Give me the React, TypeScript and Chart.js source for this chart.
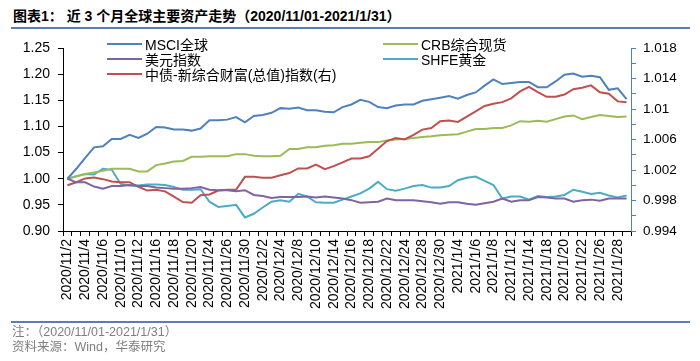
import React, { useEffect, useRef } from "react";
import { Chart, registerables } from "chart.js";

Chart.register(...registerables);

const dates = [
  "2020/11/2", "2020/11/3", "2020/11/4", "2020/11/5", "2020/11/6", "2020/11/9", "2020/11/10", "2020/11/11",
  "2020/11/12", "2020/11/13", "2020/11/16", "2020/11/17", "2020/11/18", "2020/11/19", "2020/11/20", "2020/11/23",
  "2020/11/24", "2020/11/25", "2020/11/26", "2020/11/27", "2020/11/30",
  "2020/12/1", "2020/12/2", "2020/12/3", "2020/12/4", "2020/12/7", "2020/12/8", "2020/12/9", "2020/12/10",
  "2020/12/11", "2020/12/14", "2020/12/15", "2020/12/16", "2020/12/17", "2020/12/18", "2020/12/21", "2020/12/22",
  "2020/12/23", "2020/12/24", "2020/12/25", "2020/12/28", "2020/12/29", "2020/12/30", "2020/12/31",
  "2021/1/4", "2021/1/5", "2021/1/6", "2021/1/7", "2021/1/8", "2021/1/11", "2021/1/12", "2021/1/13",
  "2021/1/14", "2021/1/15", "2021/1/18", "2021/1/19", "2021/1/20", "2021/1/21", "2021/1/22", "2021/1/25",
  "2021/1/26", "2021/1/27", "2021/1/28", "2021/1/29",
];

const msciGlobal = [
  1.000, 1.019, 1.040, 1.060, 1.062, 1.076, 1.076, 1.084, 1.078, 1.086, 1.099, 1.098, 1.094, 1.094, 1.092, 1.096,
  1.112, 1.112, 1.113, 1.118, 1.108, 1.120, 1.122, 1.126, 1.135, 1.134, 1.136, 1.131, 1.131, 1.128, 1.127, 1.137,
  1.142, 1.151, 1.147, 1.137, 1.135, 1.140, 1.142, 1.142, 1.149, 1.152, 1.155, 1.158, 1.153, 1.160, 1.165, 1.178,
  1.190, 1.181, 1.183, 1.185, 1.185, 1.175, 1.175, 1.186, 1.199, 1.201, 1.195, 1.197, 1.194, 1.170, 1.173, 1.152,
];

const usdIndex = [
  1.000, 0.993, 0.993, 0.985, 0.981, 0.986, 0.986, 0.988, 0.986, 0.986, 0.983, 0.982, 0.981, 0.981, 0.982, 0.984,
  0.979, 0.978, 0.978, 0.976, 0.978, 0.969, 0.967, 0.963, 0.965, 0.965, 0.965, 0.966, 0.964, 0.966, 0.964, 0.962,
  0.959, 0.954, 0.955, 0.956, 0.962, 0.959, 0.959, 0.959, 0.957, 0.955, 0.952, 0.955, 0.955, 0.952, 0.950, 0.953,
  0.956, 0.962, 0.956, 0.959, 0.959, 0.965, 0.964, 0.962, 0.962, 0.956, 0.959, 0.960, 0.958, 0.962, 0.962, 0.962,
];

const chinaBondWealth = [
  1.0000, 1.0004, 1.0009, 1.0010, 1.0008, 1.0005, 1.0004, 1.0004, 0.9998, 0.9993, 0.9994, 0.9992, 0.9985, 0.9978, 0.9977, 0.9987,
  0.9988, 0.9993, 0.9994, 0.9994, 1.0011, 1.0011, 1.0010, 1.0010, 1.0013, 1.0016, 1.0022, 1.0022, 1.0027, 1.0021, 1.0025, 1.0030,
  1.0035, 1.0035, 1.0038, 1.0048, 1.0058, 1.0062, 1.0060, 1.0066, 1.0073, 1.0075, 1.0084, 1.0085, 1.0083, 1.0090, 1.0097, 1.0104,
  1.0107, 1.0109, 1.0114, 1.0123, 1.0129, 1.0122, 1.0116, 1.0116, 1.0119, 1.0126, 1.0128, 1.0131, 1.0122, 1.0120, 1.0110, 1.0109,
];

const crbSpot = [
  1.000, 1.004, 1.009, 1.012, 1.015, 1.019, 1.019, 1.019, 1.014, 1.014, 1.026, 1.029, 1.033, 1.034, 1.042, 1.042,
  1.043, 1.043, 1.043, 1.047, 1.047, 1.044, 1.043, 1.043, 1.044, 1.057, 1.057, 1.060, 1.060, 1.063, 1.064, 1.067,
  1.067, 1.069, 1.070, 1.070, 1.073, 1.075, 1.076, 1.078, 1.080, 1.081, 1.083, 1.084, 1.085, 1.090, 1.095, 1.095,
  1.097, 1.097, 1.102, 1.110, 1.109, 1.111, 1.109, 1.114, 1.119, 1.121, 1.114, 1.118, 1.122, 1.120, 1.118, 1.119,
];

const shfeGold = [
  1.000, 1.005, 1.009, 1.008, 1.019, 1.017, 0.990, 0.987, 0.987, 0.989, 0.989, 0.988, 0.984, 0.979, 0.979, 0.980,
  0.956, 0.946, 0.948, 0.950, 0.926, 0.933, 0.945, 0.956, 0.959, 0.956, 0.971, 0.966, 0.955, 0.954, 0.954, 0.960,
  0.966, 0.972, 0.981, 0.994, 0.980, 0.977, 0.981, 0.986, 0.988, 0.983, 0.983, 0.986, 0.997, 1.002, 1.004, 0.996,
  0.988, 0.962, 0.966, 0.966, 0.960, 0.967, 0.965, 0.966, 0.969, 0.979, 0.975, 0.971, 0.973, 0.968, 0.964, 0.968,
];

const leftTicks = { min: 0.9, max: 1.25, step: 0.05 };
const rightTicks = { min: 0.994, max: 1.018, step: 0.002 };

const seriesNames = ["MSCI全球", "美元指数", "中债-新综合财富(总值)指数(右)", "CRB综合现货", "SHFE黄金"];
const seriesColors = ["#4F81BD", "#8064A2", "#C0504D", "#9BBB59", "#4BACC6"];

const FONT = "'Liberation Sans', Arial, 'Noto Sans CJK SC', sans-serif";

export default function App() {
  const ref = useRef<HTMLCanvasElement>(null);

  useEffect(() => {
    if (!ref.current) return;
    const chart = new Chart(ref.current, {
      type: "line",
      data: {
        labels: dates,
        datasets: [
          { label: seriesNames[0], data: msciGlobal, borderColor: seriesColors[0], yAxisID: "y" },
          { label: seriesNames[1], data: usdIndex, borderColor: seriesColors[1], yAxisID: "y" },
          { label: seriesNames[2], data: chinaBondWealth, borderColor: seriesColors[2], yAxisID: "y1" },
          { label: seriesNames[3], data: crbSpot, borderColor: seriesColors[3], yAxisID: "y" },
          { label: seriesNames[4], data: shfeGold, borderColor: seriesColors[4], yAxisID: "y" },
        ],
      },
      options: {
        animation: false,
        responsive: false,
        maintainAspectRatio: false,
        devicePixelRatio: 1,
        layout: { padding: { top: 48, left: 0, right: 0, bottom: 0 } },
        elements: {
          point: { radius: 0, hoverRadius: 0 },
          line: { borderWidth: 2, tension: 0, fill: false },
        },
        plugins: { legend: { display: false }, tooltip: { enabled: false } },
        scales: {
          x: {
            type: "category",
            offset: true,
            grid: { offset: true, drawOnChartArea: false, drawTicks: true, tickLength: 5, color: "#000", lineWidth: 1 },
            border: { display: true, color: "#000", width: 1 },
            ticks: {
              autoSkip: false,
              minRotation: 90,
              maxRotation: 90,
              padding: 3,
              color: "#000",
              font: { family: FONT, size: 14 },
              callback: (_v: any, idx: number) => (idx % 2 === 0 ? dates[idx] : ""),
            },
            afterFit: (s: any) => {
              s.height = 130;
            },
          },
          y: {
            position: "left",
            min: leftTicks.min,
            max: leftTicks.max,
            grid: { drawOnChartArea: false, drawTicks: true, tickLength: 5, color: "#000" },
            border: { display: true, color: "#000", width: 1 },
            ticks: {
              stepSize: leftTicks.step,
              autoSkip: false,
              padding: 8,
              color: "#000",
              font: { family: FONT, size: 14 },
              callback: (v: any) => Number(v).toFixed(2),
            },
            afterFit: (s: any) => {
              s.width = 63;
            },
          },
          y1: {
            position: "right",
            min: rightTicks.min,
            max: rightTicks.max,
            grid: { drawOnChartArea: false, drawTicks: true, tickLength: 5, color: "#4F81BD" },
            border: { display: true, color: "#4F81BD", width: 1 },
            ticks: {
              stepSize: rightTicks.step,
              autoSkip: false,
              padding: 7,
              color: "#000",
              font: { family: FONT, size: 13.5 },
              callback: (v: any, idx: number) => (idx % 2 === 0 ? String(parseFloat(Number(v).toFixed(3))) : ""),
            },
            afterFit: (s: any) => {
              s.width = 69;
            },
          },
        },
      },
    });
    return () => chart.destroy();
  }, []);

  const legendItem = (i: number, x: number, y: number) => (
    <div
      key={i}
      style={{
        position: "absolute",
        left: x,
        top: y - 8,
        height: 16,
        display: "flex",
        alignItems: "center",
        whiteSpace: "nowrap",
        fontFamily: FONT,
        fontSize: 14,
        color: "#000",
      }}
    >
      <span style={{ display: "inline-block", width: 35, height: 2, background: seriesColors[i], marginRight: 3 }} />
      <span>{seriesNames[i]}</span>
    </div>
  );

  return (
    <div
      style={{
        position: "fixed",
        left: 0,
        top: 0,
        width: 700,
        height: 361,
        background: "#fff",
        overflow: "hidden",
      }}
    >
      <div
        style={{
          position: "absolute",
          left: 13,
          top: 7,
          fontFamily: FONT,
          fontSize: 14,
          fontWeight: "bold",
          color: "#000",
          whiteSpace: "nowrap",
          lineHeight: "19px",
        }}
      >
        图表1： 近 3 个月全球主要资产走势（2020/11/01-2021/1/31）
      </div>
      <div style={{ position: "absolute", left: 11, top: 27, width: 679, height: 2, background: "#5A7DB4" }} />
      <canvas
        ref={ref}
        width={700}
        height={361}
        style={{ position: "absolute", left: 0, top: 0, width: 700, height: 361 }}
      />
      {legendItem(0, 107, 44)}
      {legendItem(1, 107, 59)}
      {legendItem(2, 107, 73.5)}
      {legendItem(3, 383, 44)}
      {legendItem(4, 383, 59)}
      <div style={{ position: "absolute", left: 11, top: 321, width: 679, height: 2, background: "#5A7DB4" }} />
      <div
        style={{
          position: "absolute",
          left: 12,
          top: 325,
          fontFamily: FONT,
          fontSize: 12.5,
          color: "#7F7F7F",
          whiteSpace: "nowrap",
          lineHeight: "15px",
        }}
      >
        注：（2020/11/01-2021/1/31）
      </div>
      <div
        style={{
          position: "absolute",
          left: 12,
          top: 340,
          fontFamily: FONT,
          fontSize: 12.5,
          color: "#7F7F7F",
          whiteSpace: "nowrap",
          lineHeight: "15px",
        }}
      >
        资料来源：Wind，华泰研究
      </div>
    </div>
  );
}
